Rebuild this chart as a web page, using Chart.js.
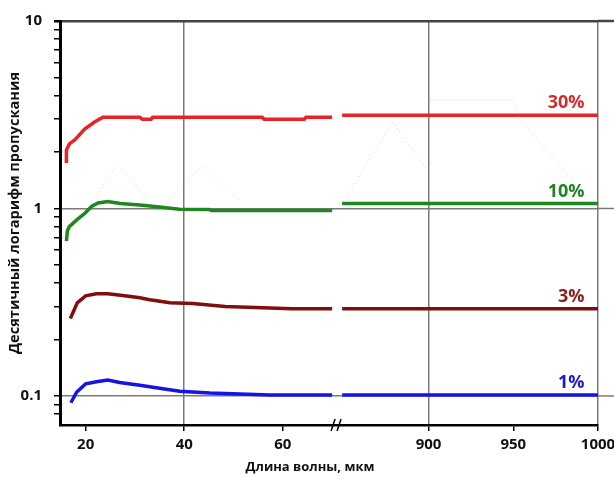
<!DOCTYPE html>
<html>
<head>
<meta charset="utf-8">
<script src="https://cdn.jsdelivr.net/npm/chart.js@4/dist/chart.umd.min.js"></script>
<style>
  body { margin: 0; background: #fff; }
</style>
</head>
<body>
<canvas id="myChart" width="614" height="479"></canvas>
<script>
const ctx = document.getElementById('myChart').getContext('2d')

// wavelength (мкм) and transmission
const wlRed = [16.1, 16.1, 16.7, 17.8, 19.8, 21.8, 23.5, 31.0, 31.5, 33.3, 33.6, 55.8, 56.2, 64.3, 64.7, 70.0]
const valRed = [1.75, 2.05, 2.21, 2.32, 2.65, 2.89, 3.07, 3.07, 2.99, 2.99, 3.07, 3.07, 2.99, 2.99, 3.07, 3.07]
const wlGreen = [16.1, 16.3, 16.7, 18.3, 19.8, 21.2, 22.5, 24.5, 27.0, 31.0, 34.0, 39.0, 45.0, 45.5, 70.0]
const valGreen = [0.67, 0.76, 0.80, 0.874, 0.94, 1.025, 1.07, 1.09, 1.063, 1.045, 1.025, 0.99, 0.988, 0.976, 0.976]
const wlDark = [16.9, 18.3, 20.0, 22.2, 24.5, 27.9, 31.0, 33.0, 37.1, 41.7, 48.3, 61.9, 70.0]
const valDark = [0.259, 0.314, 0.342, 0.351, 0.351, 0.342, 0.334, 0.326, 0.314, 0.311, 0.300, 0.292, 0.292]
const wlBlue = [17.0, 18.2, 20.0, 22.2, 24.5, 26.9, 31.0, 35.0, 39.1, 45.2, 57.4, 70.0]
const valBlue = [0.092, 0.105, 0.116, 0.119, 0.1216, 0.118, 0.114, 0.110, 0.106, 0.1037, 0.1013, 0.1013]

// right part of the axis (after the break)
const wlRight = [849, 1000]
const valRedR = [3.14, 3.14]
const valGreenR = [1.063, 1.063]
const valDarkR = [0.292, 0.292]
const valBlueR = [0.1013, 0.1013]

// faint dotted curves in the background
const wlBg = [21.8, 26.5, 32.4, 34.5, 37.1, 43.8, 51.3, 600, 850, 879, 899, 900, 901, 950, 955, 986]
const valBg = [1.13, 1.73, 1.13, null, 1.13, 1.71, 1.09, null, 1.10, 2.89, 1.60, null, 3.77, 3.77, 2.89, 1.39]

const seriesLabels = ['30%', '10%', '3%', '1%']
const xTicks = [20, 40, 60, 900, 950, 1000]
const xGrid = [40, 900, 1000]
const yMajor = [0.1, 1, 10]
const yTicks = [0.08, 0.09, 0.1, 0.2, 0.3, 0.4, 0.5, 0.6, 0.7, 0.8, 0.9, 1, 2, 3, 4, 5, 6, 7, 8, 9, 10]

// axis break: left piece ends at 71, right piece starts at 846
const BREAK_FROM = 71
const BREAK_TO = 846
const BREAK_FRAC = 0.515

class BrokenScale extends Chart.LinearScale {
    static id = 'broken'
    static defaults = Chart.LinearScale.defaults
    getPixelForValue(v) {
        let f
        if (v <= BREAK_FROM) f = (v - this.min) / (BREAK_FROM - this.min) * BREAK_FRAC
        else if (v >= BREAK_TO) f = BREAK_FRAC + (v - BREAK_TO) / (this.max - BREAK_TO) * (1 - BREAK_FRAC)
        else f = BREAK_FRAC
        return this.left + f * this.width
    }
    getValueForPixel(p) {
        const f = (p - this.left) / this.width
        if (f <= BREAK_FRAC) return this.min + f / BREAK_FRAC * (BREAK_FROM - this.min)
        return BREAK_TO + (f - BREAK_FRAC) / (1 - BREAK_FRAC) * (this.max - BREAK_TO)
    }
}
Chart.register(BrokenScale)

const pts = (xs, ys) => xs.map((x, i) => ({x, y: ys[i]}))
const join = (xs, ys, xr, yr) => [...pts(xs, ys), {x: 500, y: null}, ...pts(xr, yr)]

const colors = ['rgb(232,36,36)', 'rgb(30,135,30)', 'rgb(128,14,14)', 'rgb(20,20,228)']
const labelColors = ['rgb(212,44,44)', 'rgb(36,128,36)', 'rgb(136,34,34)', 'rgb(28,28,200)']

const data = {
    datasets: [
        {data: join(wlRed, valRed, wlRight, valRedR), borderColor: colors[0]},
        {data: join(wlGreen, valGreen, wlRight, valGreenR), borderColor: colors[1]},
        {data: join(wlDark, valDark, wlRight, valDarkR), borderColor: colors[2]},
        {data: join(wlBlue, valBlue, wlRight, valBlueR), borderColor: colors[3]},
        {data: pts(wlBg, valBg), borderColor: 'rgba(160,160,160,0.45)', borderWidth: 1, borderDash: [1, 3]},
    ].map((d, i) => Object.assign({borderWidth: 3.5, pointRadius: 0, tension: 0, spanGaps: false, order: 4 - i}, d)),
}

const FONT = "'Open Sans', 'DejaVu Sans', sans-serif"

const extras = {
    id: 'extras',
    beforeDatasetsDraw(chart) {
        // grid lines run on past the 1000 line to the edge
        const c = chart.ctx
        const xs = chart.scales.x, ys = chart.scales.y
        c.save()
        yMajor.forEach(v => {
            const py = ys.getPixelForValue(v)
            c.strokeStyle = v === 10 ? '#444' : '#7a7a7a'
            c.lineWidth = v === 10 ? 2.5 : 1.5
            c.beginPath()
            c.moveTo(xs.right, py); c.lineTo(chart.width, py)
            c.stroke()
        })
        c.restore()
    },
    afterDraw(chart) {
        const c = chart.ctx
        const xs = chart.scales.x, ys = chart.scales.y
        c.save()
        // series labels
        c.font = 'bold 18px ' + FONT
        c.textAlign = 'right'
        c.textBaseline = 'alphabetic'
        const last = [valRedR, valGreenR, valDarkR, valBlueR]
        last.forEach((vals, i) => {
            const px = xs.getPixelForValue(992)
            const py = ys.getPixelForValue(vals[vals.length - 1]) - 7
            c.fillStyle = labelColors[i]
            c.fillText(seriesLabels[i], px, py)
        })
        // break mark
        const bx = xs.left + BREAK_FRAC * xs.width
        const by = xs.top
        c.strokeStyle = '#000'
        c.lineWidth = 1.5
        c.beginPath()
        c.moveTo(bx - 6, by + 6); c.lineTo(bx - 2, by - 6)
        c.moveTo(bx, by + 6); c.lineTo(bx + 4, by - 6)
        c.stroke()
        // axis titles
        c.fillStyle = '#111'
        c.textAlign = 'center'
        c.textBaseline = 'middle'
        c.font = 'bold 13px ' + FONT
        c.fillText('Длина волны, мкм', 310, 467)
        c.translate(15, 213)
        c.rotate(-Math.PI / 2)
        c.font = 'bold 14.6px ' + FONT
        c.fillText('Десятичный логарифм пропускания', 0, 0)
        c.restore()
    }
}

const config = {
    type: 'line',
    data: data,
    plugins: [extras],
    options: {
        responsive: false,
        animation: false,
        layout: {padding: {top: 17, left: 0, right: 0, bottom: 0}},
        plugins: {
            legend: {display: false},
            tooltip: {enabled: false},
        },
        scales: {
            x: {
                type: 'broken',
                min: 14.8,
                max: 1000,
                afterBuildTicks: (scale) => { scale.ticks = xTicks.map(v => ({value: v})) },
                afterFit: (scale) => { scale.height = 54; scale.paddingRight = 16; scale.paddingLeft = 0 },
                ticks: {
                    autoSkip: false,
                    maxRotation: 0,
                    padding: 5,
                    color: '#111',
                    font: {family: FONT, size: 15, weight: 'bold'},
                    callback: (v) => String(v),
                },
                grid: {
                    color: (c) => xGrid.includes(c.tick && c.tick.value) ? '#7a7a7a' : 'rgba(0,0,0,0)',
                    lineWidth: 1.5,
                    tickColor: '#000',
                    tickLength: 6,
                },
                border: {color: '#000', width: 2.5},
            },
            y: {
                type: 'logarithmic',
                min: 0.07,
                max: 10,
                afterBuildTicks: (scale) => { scale.ticks = yTicks.map(v => ({value: v})) },
                afterFit: (scale) => { scale.width = 60 },
                ticks: {
                    autoSkip: false,
                    padding: 12,
                    color: '#111',
                    font: {family: FONT, size: 15, weight: 'bold'},
                    callback: (v) => yMajor.includes(v) ? String(v) : '',
                },
                grid: {
                    color: (c) => {
                        const v = c.tick && c.tick.value
                        if (v === 10) return '#444'
                        return (v === 1 || v === 0.1) ? '#7a7a7a' : 'rgba(0,0,0,0)'
                    },
                    lineWidth: (c) => (c.tick && c.tick.value === 10) ? 2.5 : 1.5,
                    tickColor: '#000',
                    tickLength: 6,
                },
                border: {color: '#000', width: 3},
            },
        },
    },
}

const myChart = new Chart(ctx, config)
</script>
</body>
</html>
